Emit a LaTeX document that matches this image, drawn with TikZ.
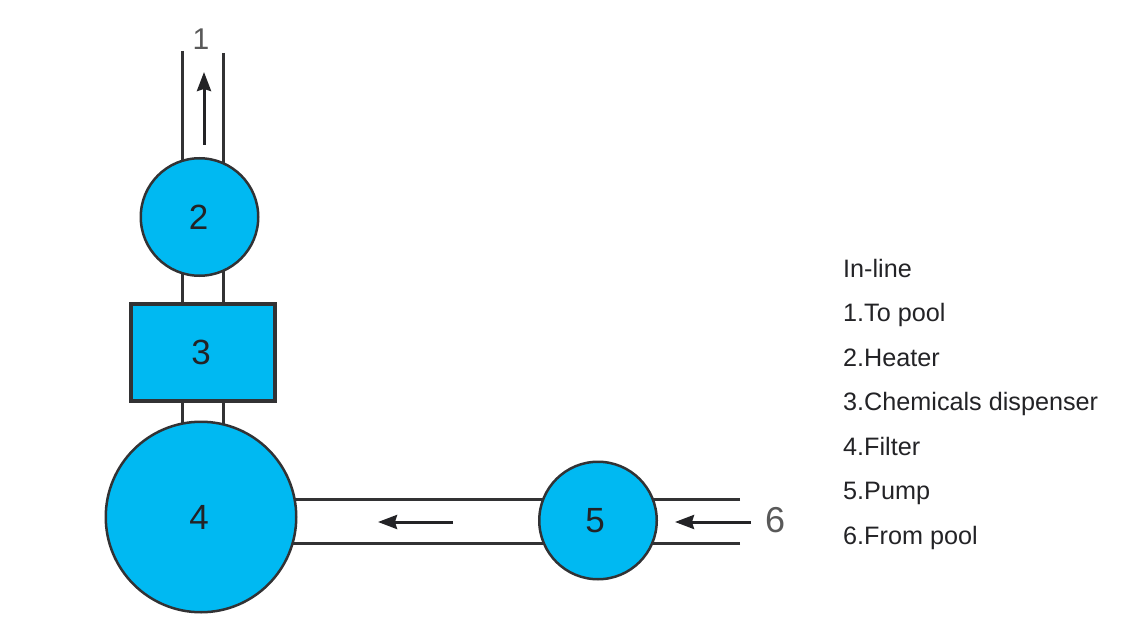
\documentclass[tikz,border=0pt]{standalone}
\usepackage{fontspec}
\setmainfont{Liberation Sans}
\usepackage{xcolor}
\definecolor{tankblue}{RGB}{0,185,242}
\definecolor{pipegray}{RGB}{50,50,52}
\definecolor{inkgray}{RGB}{35,35,38}
\usepackage{tikz}
\usetikzlibrary{
  arrows.meta,
  positioning,
  backgrounds
}
\tikzset{
  unitdisc/.style={draw=pipegray, circle, fill=tankblue, line width=2.5pt,
    inner sep=0pt, text=inkgray, font=\fontsize{35}{35}\selectfont},
  unitbox/.style={draw=pipegray, fill=tankblue, line width=4pt,
    inner sep=0pt, text=inkgray, font=\fontsize{35}{35}\selectfont},
  pipe/.style={draw=pipegray, line width=3pt},
  flowarr/.style={-{Stealth[length=19pt,width=14pt,inset=2pt]}, line width=3pt, draw=inkgray},
  endlabel/.style={text=black!65, inner sep=0pt},
  legendline/.style={anchor=north west, inner sep=0pt, text=inkgray,
    text height=18pt, text depth=5pt, font=\fontsize{25.2}{25.2}\selectfont},
}
\begin{document}
\begin{tikzpicture}[x=1pt, y=-1pt]
  \useasboundingbox (0,0) rectangle (1121,639);

  % Units
  \node[unitdisc, minimum size=117.5pt] (heater) at (199.5,217) {\hspace*{-2pt}2};
  \node[unitbox, minimum width=144pt, minimum height=97pt] (dispenser) at (203,352) {\hspace*{-4pt}3};
  \node[unitdisc, minimum size=190.5pt] (filter) at (201,517) {\hspace*{-4pt}4};
  \node[unitdisc, minimum size=117.5pt] (pump) at (598,520.5) {\hspace*{-6pt}5};

  % Pipe ends
  \coordinate (outL) at (182.7,51);
  \coordinate (outR) at (223.7,53);
  \coordinate (inT) at (740,499);
  \coordinate (inB) at (740,543);

  % Pipes, behind the units
  \begin{scope}[on background layer]
    \draw[pipe] (outL) -- (outL |- heater.center);
    \draw[pipe] (outR) -- (outR |- heater.center);
    \draw[pipe] (outL |- heater.center) -- (outL |- dispenser.center);
    \draw[pipe] (outR |- heater.center) -- (outR |- dispenser.center);
    \draw[pipe] (outL |- dispenser.center) -- (outL |- filter.center);
    \draw[pipe] (outR |- dispenser.center) -- (outR |- filter.center);
    \draw[pipe] (inT) -- (inT -| pump.center);
    \draw[pipe] (inB) -- (inB -| pump.center);
    \draw[pipe] (inT -| pump.center) -- (inT -| filter.center);
    \draw[pipe] (inB -| pump.center) -- (inB -| filter.center);
  \end{scope}

  % End labels
  \node[endlabel, font=\fontsize{30}{30}\selectfont] (top) at (201,39) {1};
  \node[endlabel, font=\fontsize{36}{36}\selectfont] (source) at (775,520) {6};

  % Arrows
  \coordinate (upA) at (204,145);
  \coordinate (upB) at (204,72);
  \coordinate (midA) at (453,522);
  \coordinate (midB) at (378,522);
  \coordinate (inA) at (751,522);
  \coordinate (inC) at (675,522);
  \draw[flowarr] (upA) -- (upB);
  \draw[flowarr] (midA) -- (midB);
  \draw[flowarr] (inA) -- (inC);

  % Legend
  \node[legendline] (leg0) at (843,259) {In-line};
  \node[legendline, below right=21.1pt and 0pt of leg0.south west] (leg1) {1.To pool};
  \node[legendline, below right=21.1pt and 0pt of leg1.south west] (leg2) {2.Heater};
  \node[legendline, below right=21.1pt and 0pt of leg2.south west] (leg3) {3.Chemicals dispenser};
  \node[legendline, below right=21.1pt and 0pt of leg3.south west] (leg4) {4.Filter};
  \node[legendline, below right=21.1pt and 0pt of leg4.south west] (leg5) {5.Pump};
  \node[legendline, below right=21.1pt and 0pt of leg5.south west] (leg6) {6.From pool};
\end{tikzpicture}
\end{document}
